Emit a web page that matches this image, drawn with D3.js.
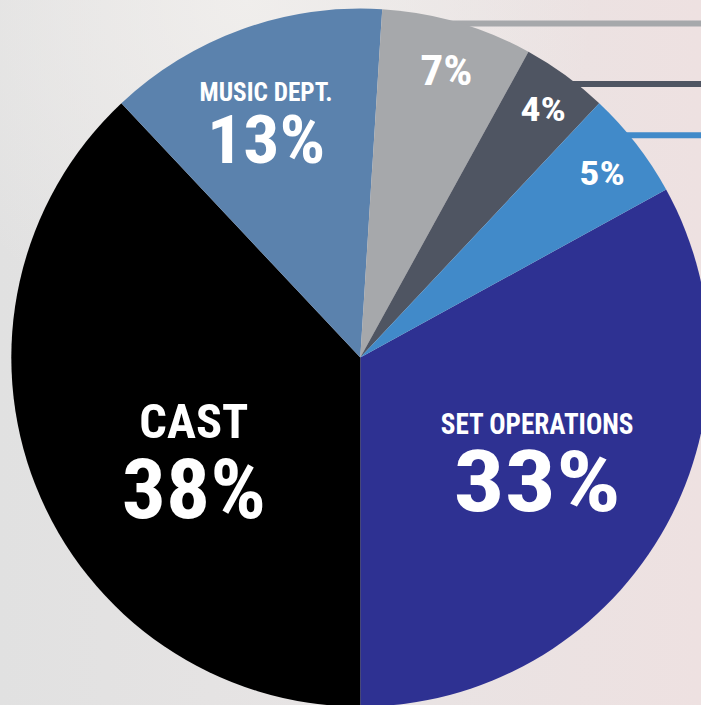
<!DOCTYPE html>
<html>
<head>
<meta charset="utf-8">
<script src="https://cdn.jsdelivr.net/npm/d3@7"></script>
<style>
  html, body { margin: 0; padding: 0; overflow: hidden; background: #e8e4e4; }
  svg { display: block; }
  text { font-family: 'Liberation Sans Narrow', 'Roboto Condensed', 'DejaVu Sans Condensed', sans-serif; font-weight: bold; fill: #ffffff; }
</style>
</head>
<body>
<svg id="chart" width="701" height="705"></svg>
<script>
// ---- data ----
const categories = ["Set Operations", "Cast", "Music Dept.", "Other A", "Other B", "Other C"];
const values = [33, 38, 13, 7, 4, 5];
const nameLabels = ["SET OPERATIONS", "CAST", "MUSIC DEPT.", null, null, null];
const valueLabels = ["33%", "38%", "13%", "7%", "4%", "5%"];

// ---- style / layout (not data) ----
const colors = ["#2e3192", "#000000", "#5b82ad", "#a6a8ab", "#4f5562", "#418ac9"];
const W = 701, H = 705;
const cx = 360.3, cy = 357.6, R = 349;
// per-slice label layout: radius of value baseline, angle offset (deg), font sizes, horizontal scale
const labelLayout = [
  { r: 234, da: 10.3, vSize: 86, vScale: 1.18, nSize: 29, nScale: 0.935, nDy: -77 },
  { r: 231, da: -22.3, vSize: 84, vScale: 1.04, nSize: 48, nScale: 1.01, nDy: -80 },
  { r: 216.5, da: -6, vSize: 67, vScale: 1.07, nSize: 25, nScale: 1.01, nDy: -62 },
  { r: 286, da: 1.3, vSize: 42, vScale: 1.09 },
  { r: 299, da: 1.7, vSize: 34, vScale: 1.17 },
  { r: 297, da: 2.3, vSize: 34, vScale: 1.17 }
];
// leader lines for the small slices: angle offset from slice middle
const leaderOffsets = { 3: 0.6, 4: 2.4, 5: -1.8 };

const svg = d3.select("#chart");

// background
const defs = svg.append("defs");
const bg = defs.append("linearGradient").attr("id", "bg").attr("x1", "0").attr("x2", "1").attr("y1", "0").attr("y2", "0");
bg.append("stop").attr("offset", "0").attr("stop-color", "#e1e1e1");
bg.append("stop").attr("offset", "0.45").attr("stop-color", "#e7e4e4");
bg.append("stop").attr("offset", "1").attr("stop-color", "#eee1e1");
const topGlow = defs.append("radialGradient").attr("id", "glow").attr("cx", "0.35").attr("cy", "0").attr("r", "0.5");
topGlow.append("stop").attr("offset", "0").attr("stop-color", "#f1efed").attr("stop-opacity", 0.9);
topGlow.append("stop").attr("offset", "1").attr("stop-color", "#f1efed").attr("stop-opacity", 0);
svg.append("rect").attr("width", W).attr("height", H).attr("fill", "url(#bg)");
svg.append("rect").attr("width", W).attr("height", H).attr("fill", "url(#glow)");

const start = Math.PI - values[0] / d3.sum(values) * 2 * Math.PI;
const pie = d3.pie()
  .sort(null)
  .value(d => d)
  .startAngle(start)
  .endAngle(start + 2 * Math.PI);
const arcsData = pie(values);
const arc = d3.arc().innerRadius(0).outerRadius(R);

const g = svg.append("g").attr("transform", `translate(${cx},${cy})`);

// leader lines (behind pie)
const deg = Math.PI / 180;
Object.keys(leaderOffsets).forEach(k => {
  const i = +k;
  const d = arcsData[i];
  const a = (d.startAngle + d.endAngle) / 2 + leaderOffsets[k] * deg;
  const x0 = R * Math.sin(a) - 18;
  const y0 = -R * Math.cos(a);
  g.append("line")
    .attr("x1", x0).attr("x2", W - cx + 5)
    .attr("y1", y0).attr("y2", y0)
    .attr("stroke", colors[i])
    .attr("stroke-width", 6);
});

// slices
g.selectAll("path.slice")
  .data(arcsData)
  .join("path")
  .attr("class", "slice")
  .attr("d", arc)
  .attr("fill", (d, i) => colors[i]);

// labels
arcsData.forEach((d, i) => {
  const L = labelLayout[i];
  const a = (d.startAngle + d.endAngle) / 2 + L.da * deg;
  const x = L.r * Math.sin(a);
  const y = -L.r * Math.cos(a);
  g.append("text")
    .attr("text-anchor", "middle")
    .attr("transform", `translate(${x},${y}) scale(${L.vScale},1)`)
    .style("font-size", L.vSize + "px")
    .text(valueLabels[i]);
  if (nameLabels[i]) {
    g.append("text")
      .attr("text-anchor", "middle")
      .attr("transform", `translate(${x},${y + L.nDy}) scale(${L.nScale},1)`)
      .style("font-size", L.nSize + "px")
      .text(nameLabels[i]);
  }
});
</script>
</body>
</html>
